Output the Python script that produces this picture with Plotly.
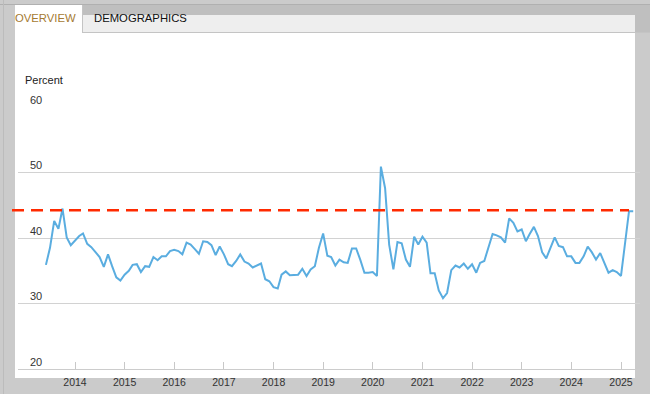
import plotly.graph_objects as go
import pandas as pd
from datetime import datetime, timedelta

# ---- data ----
start_month = "2013-06-01"
values = [
    # 2013 (Jun-Dec)
    35.9, 38.5, 42.6, 41.4, 44.5, 40.1, 38.9,
    # 2014
    39.6, 40.3, 40.7, 39.1, 38.6, 37.8, 37.1, 35.6, 37.5, 35.7, 34.0, 33.5,
    # 2015
    34.4, 35.0, 35.9, 36.0, 34.8, 35.7, 35.6, 37.1, 36.6, 37.2, 37.2, 38.0,
    # 2016
    38.2, 38.0, 37.5, 39.3, 39.0, 38.3, 37.6, 39.5, 39.4, 38.9, 37.4, 38.7,
    # 2017
    37.5, 36.0, 35.7, 36.5, 37.5, 36.4, 36.1, 35.5, 35.8, 36.1, 33.7, 33.4,
    # 2018
    32.5, 32.3, 34.4, 34.9, 34.3, 34.3, 34.4, 35.3, 34.2, 35.2, 35.7, 38.5,
    # 2019
    40.7, 37.3, 37.1, 35.8, 36.7, 36.3, 36.2, 38.4, 38.4, 36.7, 34.7, 34.7,
    # 2020
    34.8, 34.2, 50.9, 47.6, 39.0, 35.2, 39.4, 39.2, 36.7, 35.6, 40.2, 39.0,
    # 2021
    40.2, 39.3, 34.6, 34.6, 32.0, 30.8, 31.6, 35.1, 35.8, 35.5, 36.1, 35.3,
    # 2022
    36.0, 34.7, 36.2, 36.5, 38.5, 40.6, 40.4, 40.1, 39.3, 43.0, 42.3, 41.0,
    # 2023
    41.3, 39.5, 40.6, 41.7, 40.3, 37.8, 36.9, 38.5, 40.1, 38.8, 38.6, 37.2,
    # 2024
    37.2, 36.2, 36.2, 37.2, 38.7, 37.8, 36.7, 37.7, 36.3, 34.7, 35.1, 34.8,
    # 2025 (Jan-Apr)
    34.2, 39.2, 44.1, 44.1,
]
reference_level = 44.25
year_ticks = list(range(2014, 2026))
y_ticks = [20, 30, 40, 50, 60]
y_title = "Percent"
tab_labels = ["OVERVIEW", "DEMOGRAPHICS"]

dates = pd.date_range(start_month, periods=len(values), freq="MS")

# ---- geometry ----
W, H = 650, 394
ML, MR, MT, MB = 18, 10, 107, 25
PW, PH = W - ML - MR, H - MT - MB


def px_x(p):
    return (p - ML) / PW


def px_y(p):
    return (H - MB - p) / PH


ppd = 546 / 4018.0  # pixels per day
base = datetime(2014, 1, 1)
x0 = base - timedelta(days=(75 - ML) / ppd)
x1 = base + timedelta(days=(W - MR - 75) / ppd)

fig = go.Figure()
fig.add_trace(go.Scatter(
    x=dates, y=values, mode="lines",
    line=dict(color="#5aade0", width=2),
    hoverinfo="x+y", showlegend=False,
))

shapes = []


def rect(xa, ya, xb, yb, color, layer="below"):
    shapes.append(dict(type="rect", xref="paper", yref="paper",
                       x0=px_x(xa), x1=px_x(xb), y0=px_y(yb), y1=px_y(ya),
                       fillcolor=color, line=dict(width=0), layer=layer))


def hline(xa, xb, y, color, width=1):
    shapes.append(dict(type="line", xref="paper", yref="paper",
                       x0=px_x(xa), x1=px_x(xb), y0=px_y(y), y1=px_y(y),
                       line=dict(color=color, width=width), layer="below"))


def vline(x, ya, yb, color, width=1):
    shapes.append(dict(type="line", xref="paper", yref="paper",
                       x0=px_x(x), x1=px_x(x), y0=px_y(ya), y1=px_y(yb),
                       line=dict(color=color, width=width), layer="below"))


# page chrome
rect(82, 5, 650, 32, "#bfbfbf")
rect(82, 15, 635, 32, "#eeeeee")
rect(15, 5, 82, 32, "#ffffff")
rect(15, 32, 635, 378, "#ffffff")
hline(0, 650, 4.5, "#b0b0b0")
hline(82, 650, 32.5, "#c4c4c4")
vline(82.5, 5, 32, "#c4c4c4")
vline(3.5, 0, 394, "#bcbcbc")

# reference level line
shapes.append(dict(type="line", xref="paper", yref="y",
                   x0=px_x(12), x1=px_x(629), y0=reference_level, y1=reference_level,
                   line=dict(color="#ff2a00", width=2.5, dash="12px,7px"), layer="above"))

annotations = []
# tabs
annotations.append(dict(text=tab_labels[0], xref="paper", yref="paper",
                        x=px_x(13), y=px_y(18), xanchor="left", yanchor="middle",
                        showarrow=False,
                        font=dict(family="Liberation Sans, Arial", size=11.3, color="#a57a32")))
annotations.append(dict(text=tab_labels[1], xref="paper", yref="paper",
                        x=px_x(92), y=px_y(18), xanchor="left", yanchor="middle",
                        showarrow=False,
                        font=dict(family="Liberation Sans, Arial", size=11.3, color="#111111")))
# y title
annotations.append(dict(text=y_title, xref="paper", yref="paper",
                        x=px_x(23), y=px_y(80), xanchor="left", yanchor="middle",
                        showarrow=False,
                        font=dict(family="Liberation Sans, Arial", size=11, color="#222222")))
# y tick labels above gridlines
for v in y_ticks:
    annotations.append(dict(text=str(v), xref="paper", yref="y",
                            x=px_x(28), y=v, xanchor="left", yanchor="middle",
                            yshift=7.5, showarrow=False,
                            font=dict(family="Liberation Sans, Arial", size=11, color="#333333")))

fig.update_layout(
    width=W, height=H,
    margin=dict(l=ML, r=MR, t=MT, b=MB, pad=0, autoexpand=False),
    paper_bgcolor="#cbcbcb",
    plot_bgcolor="rgba(0,0,0,0)",
    shapes=shapes,
    annotations=annotations,
    showlegend=False,
    xaxis=dict(
        type="date", range=[x0, x1], automargin=False,
        tickvals=[f"{y}-01-01" for y in year_ticks],
        ticktext=[str(y) for y in year_ticks],
        ticks="inside", ticklen=7, tickcolor="#c8c8c8", tickwidth=1,
        showgrid=False, zeroline=False,
        showline=True, linecolor="#cccccc", linewidth=1,
        tickfont=dict(family="Liberation Sans, Arial", size=10.5, color="#333333"),
        ticklabelstandoff=3,
    ),
    yaxis=dict(
        range=[20, 60], tickvals=y_ticks, showticklabels=False, automargin=False,
        showgrid=True, gridcolor="#d2d2d2", gridwidth=1,
        zeroline=False, ticks="",
    ),
)

fig.write_html("out.html", config={"displayModeBar": False},
               post_script="document.body.style.margin='0px';")
